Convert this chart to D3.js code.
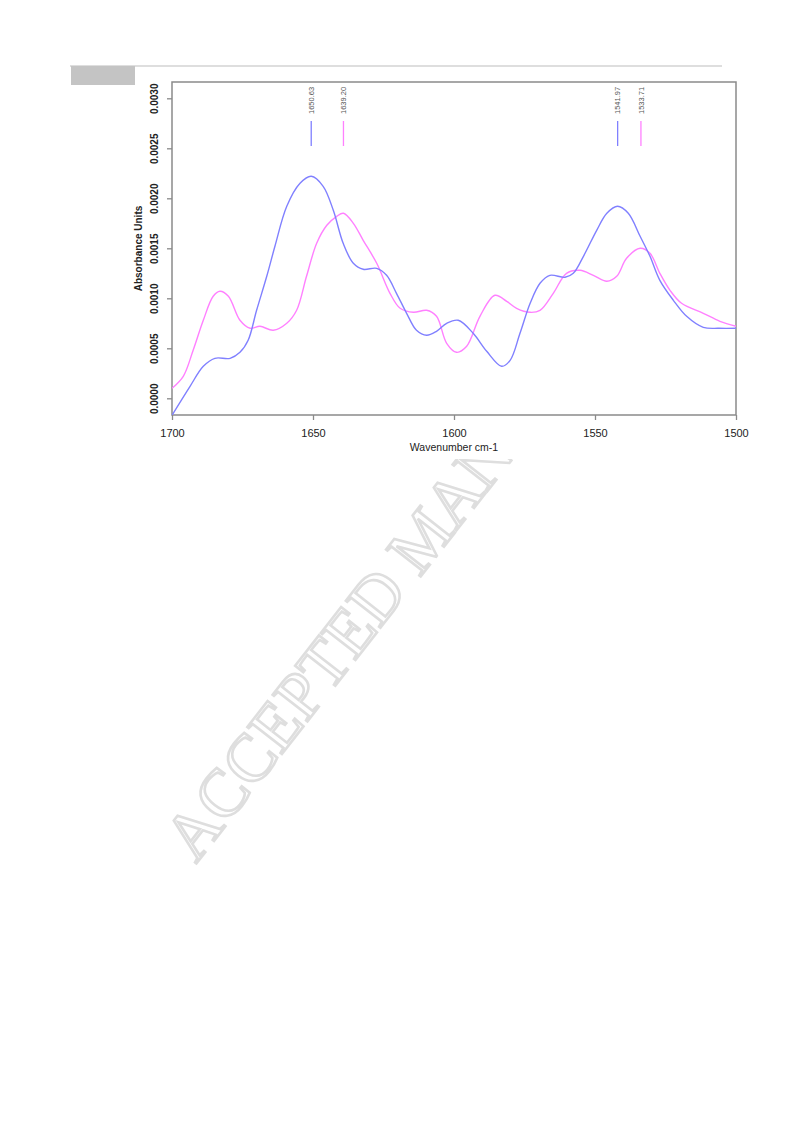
<!DOCTYPE html>
<html><head><meta charset="utf-8">
<script src="https://cdn.jsdelivr.net/npm/d3@7"></script>
<style>body{margin:0;background:#fff}svg{display:block}</style>
</head><body>
<script>
// ---- data ----
const blueWavenumber = [1700,1693.6,1688.9,1684.8,1679.4,1675.9,1673.0,1670.0,1666.4,1663.5,1659.3,1654.6,1650.6,1646.4,1642.8,1639.3,1635.7,1632.2,1627.4,1623.9,1620.4,1616.8,1613.3,1609.7,1606.2,1602.6,1598.5,1593.2,1588.4,1583.1,1580.1,1576.6,1573.0,1569.5,1566.0,1560.6,1557.7,1554.1,1549.4,1545.8,1542.0,1538.2,1534.0,1530.5,1527.0,1522.2,1517.5,1511.6,1506,1500];
const blueAbsorbance = [-0.00017,0.00012,0.00032,0.00040,0.00040,0.00046,0.00058,0.00088,0.00122,0.00152,0.00192,0.00215,0.00222,0.00212,0.00188,0.00155,0.00135,0.00129,0.00130,0.00123,0.00105,0.00085,0.00068,0.00063,0.00067,0.00075,0.00078,0.00065,0.00047,0.00032,0.00038,0.00065,0.00095,0.00115,0.00123,0.00121,0.00125,0.00142,0.00168,0.00185,0.00192,0.00185,0.00162,0.00142,0.00118,0.00098,0.00082,0.00071,0.00070,0.00070];
const pinkWavenumber = [1700,1696,1692.5,1688.9,1685.4,1683.0,1680.0,1675.9,1672.3,1668.8,1664.1,1659.3,1655.8,1652.3,1648.7,1645.1,1641.6,1639.2,1635.7,1632.2,1627.4,1622.7,1619.1,1614.4,1609.7,1606.2,1602.6,1599.1,1595.5,1590.8,1585.5,1581.3,1577.8,1573.0,1569.5,1564.8,1560.1,1555.3,1550.6,1545.8,1542.3,1538.8,1534.0,1530.5,1527.0,1523.4,1519.3,1511.6,1505.7,1500];
const pinkAbsorbance = [0.00010,0.00022,0.00048,0.00078,0.00102,0.00107,0.00102,0.00078,0.00070,0.00072,0.00068,0.00075,0.00088,0.00122,0.00155,0.00173,0.00182,0.00185,0.00175,0.00158,0.00135,0.00105,0.00090,0.00086,0.00088,0.00082,0.00055,0.00046,0.00052,0.00082,0.00103,0.00097,0.00090,0.00086,0.00088,0.00105,0.00125,0.00128,0.00123,0.00117,0.00122,0.00140,0.00150,0.00145,0.00125,0.00108,0.00095,0.00085,0.00077,0.00072];
const peakPositions = [1650.63, 1639.20, 1541.97, 1533.71];
const peakLabels = ["1650.63", "1639.20", "1541.97", "1533.71"];
const peakSeries = ["blue", "pink", "blue", "pink"];
const xTicks = [1700, 1650, 1600, 1550, 1500];
const yTicks = [0.0000, 0.0005, 0.0010, 0.0015, 0.0020, 0.0025, 0.0030];
const xTitle = "Wavenumber cm-1";
const yTitle = "Absorbance Units";
const watermark = "ACCEPTED MANUSCRIPT";

const colors = {blue: "#8080ff", pink: "#ff80ff"};
const W = 793, H = 1123;
const L = 172, R = 736, T = 82, B = 415;

const svg = d3.select("body").append("svg").attr("width", W).attr("height", H);

// watermark (behind the figure image)
svg.append("text")
  .attr("transform", "translate(196,864) rotate(-52)")
  .attr("font-family", "'Liberation Serif','Times New Roman',serif")
  .attr("font-size", 67)
  .attr("fill", "#fff")
  .attr("stroke", "#dedede")
  .attr("stroke-width", 2.6)
  .text(watermark);

// figure image background covers watermark
svg.append("rect").attr("x", 0).attr("y", 0).attr("width", W).attr("height", 459).attr("fill", "#fff");

// page header line and grey box
svg.append("line").attr("x1", 70).attr("x2", 722).attr("y1", 66).attr("y2", 66)
  .attr("stroke", "#bdbdbd").attr("stroke-width", 1.2);
svg.append("rect").attr("x", 71).attr("y", 66).attr("width", 64).attr("height", 19).attr("fill", "#c4c4c4");

const x = d3.scaleLinear().domain([1700, 1500]).range([L, R]);
const y = d3.scaleLinear().domain([0, 0.003]).range([398.3, 98.3]);

svg.append("defs").append("clipPath").attr("id", "clip")
  .append("rect").attr("x", L).attr("y", T).attr("width", R - L).attr("height", B - T);

// axes
const xAxis = d3.axisBottom(x).tickValues(xTicks).tickFormat(d3.format("d")).tickSize(5).tickPadding(9);
const gx = svg.append("g").attr("transform", `translate(0,${B})`).call(xAxis);
gx.select(".domain").remove();
gx.selectAll(".tick line").attr("stroke", "#8a8a8a").attr("stroke-width", 1.3);
gx.selectAll(".tick text").attr("font-family", "'Liberation Sans',Arial,sans-serif")
  .attr("font-size", 11).attr("fill", "#222");

const yAxis = d3.axisLeft(y).tickValues(yTicks).tickFormat(d3.format(".4f")).tickSize(5).tickPadding(0);
const gy = svg.append("g").attr("transform", `translate(${L},0)`).call(yAxis);
gy.select(".domain").remove();
gy.selectAll(".tick line").attr("stroke", "#8a8a8a").attr("stroke-width", 1.3);
gy.selectAll(".tick text")
  .attr("dy", 0)
  .attr("transform", "rotate(-90)")
  .attr("text-anchor", "middle")
  .attr("x", 0).attr("y", -14)
  .attr("font-family", "'Liberation Sans',Arial,sans-serif")
  .attr("font-weight", "bold")
  .attr("font-size", 10).attr("fill", "#222");

// frame
svg.append("rect").attr("x", L).attr("y", T).attr("width", R - L).attr("height", B - T)
  .attr("fill", "none").attr("stroke", "#8a8a8a").attr("stroke-width", 1.5);

// titles
svg.append("text").attr("x", (L + R) / 2).attr("y", 451).attr("text-anchor", "middle")
  .attr("font-family", "'Liberation Sans',Arial,sans-serif").attr("font-size", 10.5).attr("fill", "#222")
  .text(xTitle);
svg.append("text").attr("transform", `translate(142,${(T + B) / 2}) rotate(-90)`).attr("text-anchor", "middle")
  .attr("font-family", "'Liberation Sans',Arial,sans-serif").attr("font-weight", "bold")
  .attr("font-size", 10).attr("fill", "#222").text(yTitle);

// curves
const line = d3.line().x(d => x(d[0])).y(d => y(d[1])).curve(d3.curveCatmullRom.alpha(0.5));
const plot = svg.append("g").attr("clip-path", "url(#clip)");
const series = [
  {key: "pink", data: d3.zip(pinkWavenumber, pinkAbsorbance)},
  {key: "blue", data: d3.zip(blueWavenumber, blueAbsorbance)}
];
plot.selectAll("path.s").data(series).join("path")
  .attr("class", "s")
  .attr("d", d => line(d.data))
  .attr("fill", "none")
  .attr("stroke", d => colors[d.key])
  .attr("stroke-width", 1.4);

// peak markers
const pk = svg.append("g").selectAll("g").data(peakPositions).join("g");
pk.append("line")
  .attr("x1", d => x(d)).attr("x2", d => x(d))
  .attr("y1", 121).attr("y2", 146)
  .attr("stroke", (d, i) => colors[peakSeries[i]]).attr("stroke-width", 1.3);
pk.append("text")
  .attr("transform", d => `translate(${x(d) + 2.6},114) rotate(-90)`)
  .attr("font-family", "'Liberation Sans',Arial,sans-serif")
  .attr("font-size", 7.5).attr("fill", "#555")
  .text((d, i) => peakLabels[i]);
</script>
</body></html>
